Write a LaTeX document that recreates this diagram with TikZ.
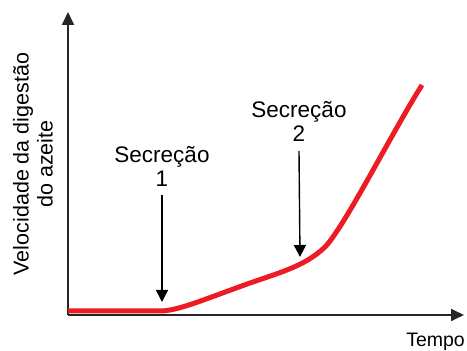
\documentclass[tikz,border=0pt]{standalone}
\usepackage{fontspec}
\setmainfont{Liberation Sans}
\usetikzlibrary{arrows.meta}

\definecolor{curvered}{RGB}{237,28,36}

\begin{document}
\begin{tikzpicture}[x=1pt, y=1pt,
    txt/.style={align=center, inner sep=0pt},
    axis/.style={-{Triangle[length=13pt, width=12pt]}, line width=1.8pt, black!85},
    pointer/.style={-{Triangle[length=12pt, width=12pt]}, line width=1.4pt}]
      \useasboundingbox (0, 0) rectangle (467, 351);

      % Draw the axes
      \coordinate (origin) at (68, 36);
      \coordinate (ytop) at (68, 339);
      \coordinate (xend) at (464, 36);
      \draw[axis] (origin) -- (ytop);
      \draw[axis] (origin) -- (xend);

      % Draw the digestion curve
      \draw[curvered, line width=5pt]
        (68, 40) -- (160, 40) .. controls (178, 40) and (205, 52) .. (250, 68)
        .. controls (285, 80) and (306, 86) .. (325, 104)
        .. controls (345, 125) and (390, 215) .. (422, 266);

      % Axis labels
      \node[txt, rotate=90, font=\fontsize{21.5}{24}\selectfont] (vel) at (33, 187)
        {Velocidade da digestão\\do azeite};
      \node[txt, anchor=base east, font=\fontsize{19.5}{22}\selectfont] (tempo) at (465, 4) {Tempo};

      % Secretion markers
      \node[txt, font=\fontsize{22.5}{24}\selectfont] (sec1) at (162, 185) {Secreção\\1};
      \coordinate (tip1) at (162, 49);
      \draw[pointer] (sec1.south |- 0, 156) -- (tip1);

      \node[txt, font=\fontsize{22.5}{24}\selectfont] (sec2) at (299, 230) {Secreção\\2};
      \coordinate (tip2) at (300, 94);
      \draw[pointer] (sec2.south |- 0, 200) -- (tip2);
      
\end{tikzpicture}
\end{document}
